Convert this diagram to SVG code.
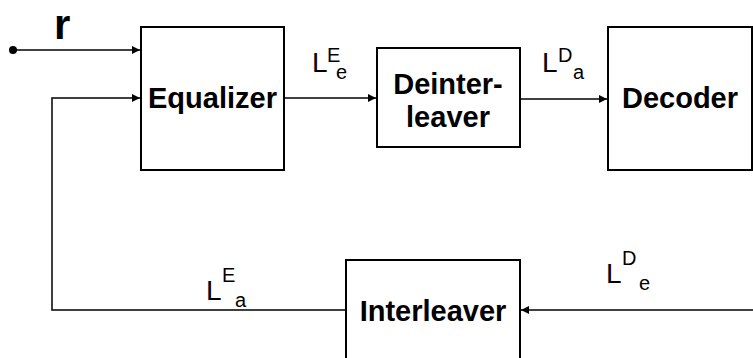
<svg xmlns="http://www.w3.org/2000/svg" width="753" height="358" viewBox="0 0 753 358">
  <style>
    .box { fill: #ffffff; stroke: #000000; stroke-width: 2; }
    .wire { fill: none; stroke: #000000; stroke-width: 1.5; }
    .name { font-family: "Liberation Sans", Arial, sans-serif; font-weight: bold; font-size: 29px; fill: #000000; text-anchor: middle; }
    .big { font-family: "Liberation Sans", Arial, sans-serif; font-size: 28px; fill: #000000; }
    .small { font-family: "Liberation Sans", Arial, sans-serif; font-size: 20px; fill: #000000; }
  </style>
  <defs>
    <marker id="arrow" viewBox="0 0 10 10" refX="10" refY="5" markerWidth="9" markerHeight="8" markerUnits="userSpaceOnUse" orient="auto">
      <path d="M0,0 L10,5 L0,10 Z" fill="#000000"/>
    </marker>
  </defs>

  <!-- connectors -->
  <g id="connectors">
    <circle cx="13" cy="50" r="4" fill="#000000"/>
    <line class="wire" x1="13" y1="50" x2="140" y2="50" marker-end="url(#arrow)"/>
    <polyline class="wire" points="346,310 52,310 52,98 140,98" marker-end="url(#arrow)"/>
    <line class="wire" x1="284" y1="98" x2="376" y2="98" marker-end="url(#arrow)"/>
    <line class="wire" x1="520" y1="99" x2="607" y2="99" marker-end="url(#arrow)"/>
    <line class="wire" x1="753" y1="310" x2="521" y2="310" marker-end="url(#arrow)"/>
  </g>

  <!-- signal labels -->
  <g id="labels">
    <text x="54" y="39" font-family="Liberation Sans, Arial, sans-serif" font-weight="bold" font-size="42">r</text>
    <text class="big" x="312" y="72">L</text>
    <text class="small" x="327" y="62">E</text>
    <text class="small" x="336" y="79">e</text>
    <text class="big" x="542" y="72">L</text>
    <text class="small" x="558" y="62">D</text>
    <text class="small" x="573" y="79">a</text>
    <text class="big" x="206" y="300">L</text>
    <text class="small" x="222" y="282">E</text>
    <text class="small" x="235" y="307">a</text>
    <text class="big" x="606" y="283">L</text>
    <text class="small" x="622" y="265">D</text>
    <text class="small" x="639" y="290">e</text>
  </g>

  <g id="equalizer">
    <rect class="box" x="141" y="27" width="143" height="143"/>
    <text class="name" x="212.5" y="108">Equalizer</text>
  </g>

  <g id="deinterleaver">
    <rect class="box" x="377" y="48" width="143" height="99"/>
    <text class="name" x="448" y="94">Deinter-</text>
    <text class="name" x="448" y="127">leaver</text>
  </g>

  <g id="decoder">
    <rect class="box" x="608" y="27" width="144" height="143"/>
    <text class="name" x="680" y="108">Decoder</text>
  </g>

  <g id="interleaver">
    <rect class="box" x="346" y="260" width="174" height="110"/>
    <text class="name" x="433" y="321">Interleaver</text>
  </g>
</svg>
